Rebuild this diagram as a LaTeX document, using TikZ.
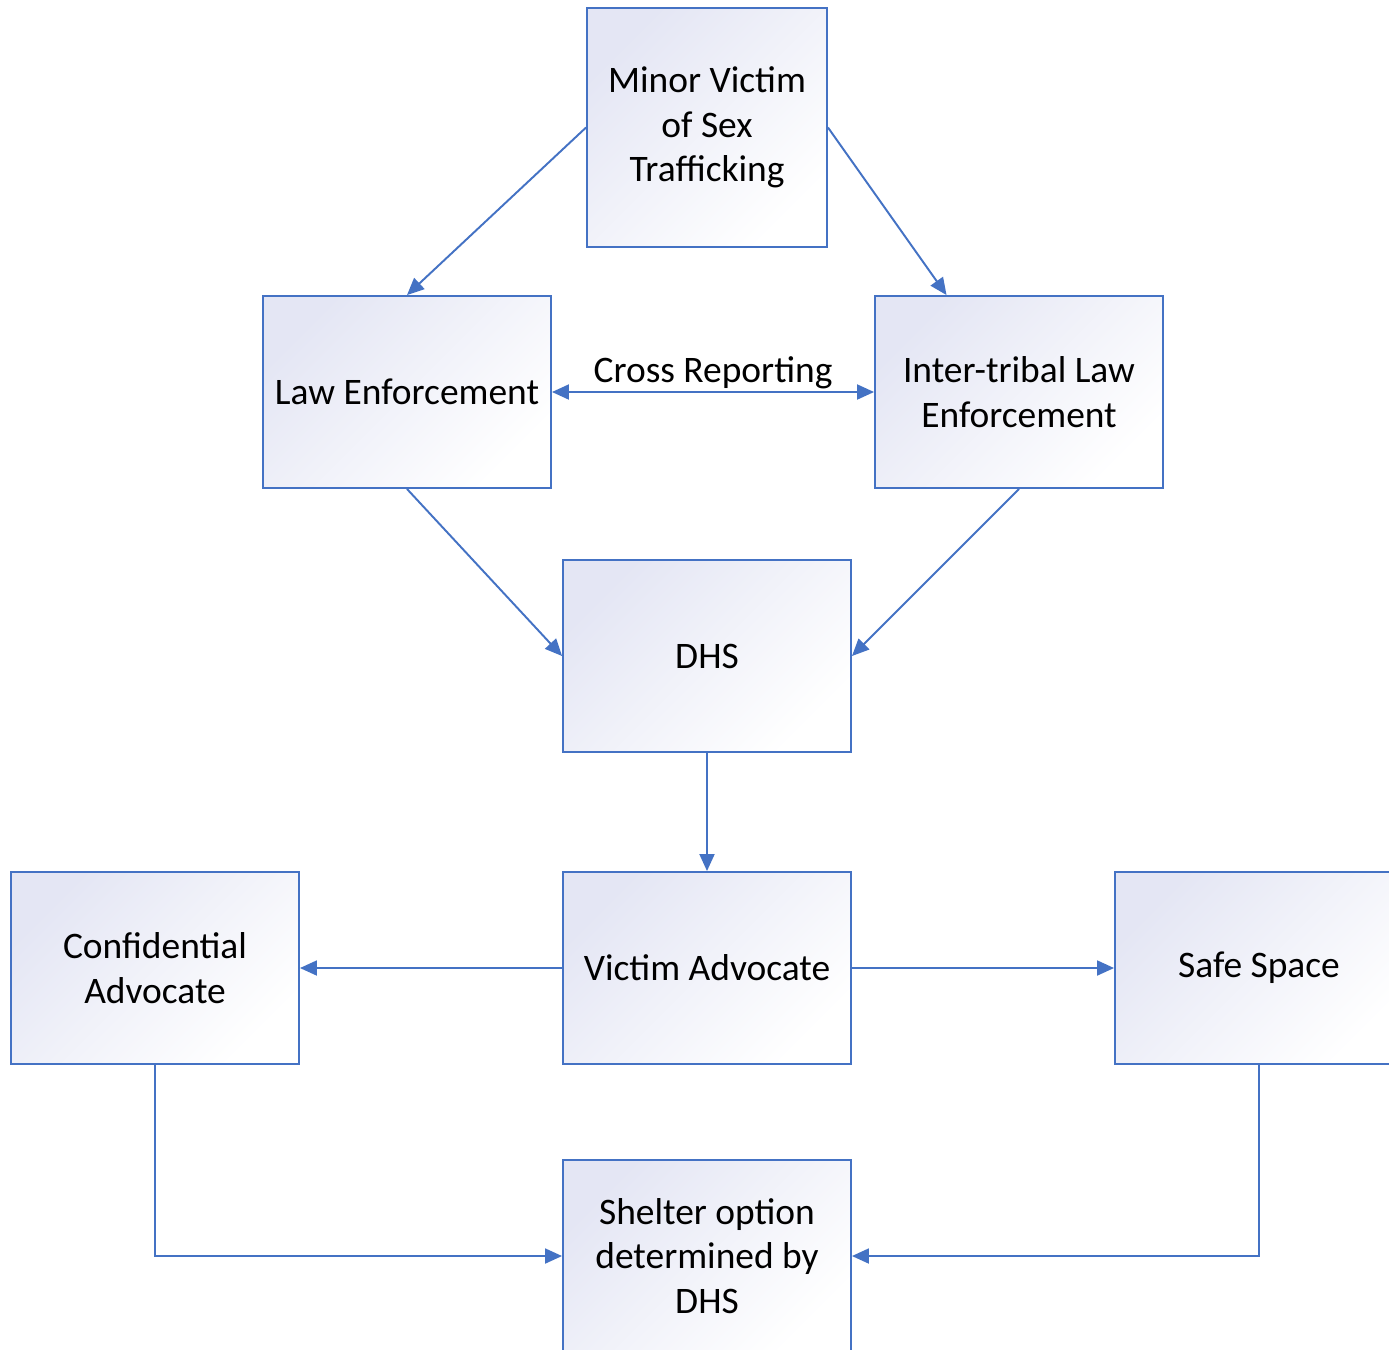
\documentclass[tikz,border=0pt]{standalone}
\usepackage{fontspec}
\setmainfont{Carlito}
\usepackage{tikz}
\usetikzlibrary{shapes,arrows.meta,calc,positioning}
\definecolor{boxline}{RGB}{68,114,196}
\definecolor{lavender}{RGB}{228,230,244}
\tikzstyle{block} = [draw=boxline, line width=1.1pt, rectangle,
    top color=lavender, bottom color=white, shading angle=45,
    minimum width=5.76cm, minimum height=3.84cm, align=center,
    font=\fontsize{21.3}{25.3}\selectfont]
\tikzstyle{link} = [draw=boxline, line width=1.1pt,
    -{Triangle[length=0.34cm,width=0.3cm]}]

\begin{document}
\begin{tikzpicture}[node distance = 3cm, auto]
  \clip (0,0) rectangle (27.78,-26.98);
  \fill[white] (0,0) rectangle (27.78,-26.98);
  \node [block, minimum width=4.8cm, minimum height=4.78cm] (minor) at (14.14,-2.55) {Minor Victim\\of Sex\\Trafficking};
  \node [block] (law) at (8.14,-7.84) {Law Enforcement};
  \node [block, right of=law, node distance=12.24cm] (inter) {Inter-tribal Law\\Enforcement};
  \node [block] (dhs) at (14.14,-13.12) {DHS};
  \node [block, below of=dhs, node distance=6.24cm] (advocate) {Victim Advocate};
  \node [block, left of=advocate, node distance=11.04cm] (conf) {Confidential\\Advocate};
  \node [block, right of=advocate, node distance=11.04cm] (safe) {Safe Space};
  \node [block, below of=advocate, node distance=5.76cm] (shelter) {Shelter option\\determined by\\DHS};
  % top part
  \draw [link] (minor.west) -- (law.north);
  \draw [link] (minor.east) -- ($(inter.north west)!0.25!(inter.north east)$);
  \draw [link, {Triangle[length=0.34cm,width=0.3cm]}-{Triangle[length=0.34cm,width=0.3cm]}] (law.east) -- node [above, inner sep=1pt, font=\fontsize{21.3}{25.3}\selectfont] (cross) {Cross Reporting} (inter.west);
  \draw [link] (law.south) -- (dhs.west);
  \draw [link] (inter.south) -- (dhs.east);
  % bottom part
  \draw [link] (dhs.south) -- (advocate.north);
  \draw [link] (advocate.west) -- (conf.east);
  \draw [link] (advocate.east) -- (safe.west);
  \draw [link] (conf.south) |- (shelter.west);
  \draw [link] (safe.south) |- (shelter.east);
\end{tikzpicture}
\end{document}
